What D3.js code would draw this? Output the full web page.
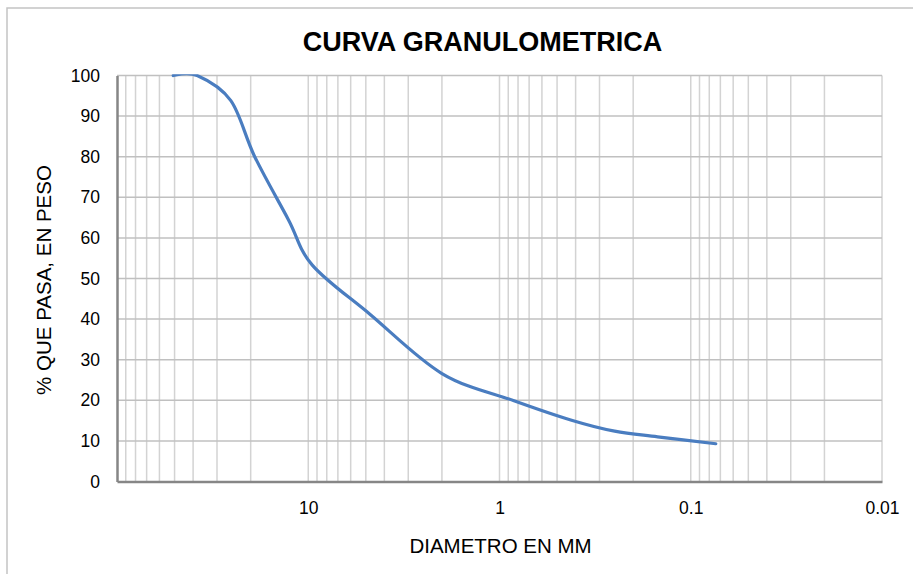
<!DOCTYPE html>
<html>
<head>
<meta charset="utf-8">
<script src="https://cdn.jsdelivr.net/npm/d3@7"></script>
<style>
  body { margin: 0; background: #fff; }
  text { font-family: "Liberation Sans", Arial, sans-serif; fill: #000; }
</style>
</head>
<body>
<svg id="viz" width="913" height="574"></svg>
<script>
// sieve openings (mm) and % passing
var diameters = [50.8, 38.1, 25.4, 19.05, 12.7, 9.525, 4.76, 2.0, 0.84, 0.42, 0.25, 0.149, 0.074];
var passing = [100, 100, 93.8, 80, 64.5, 53.3, 41.2, 26.6, 19.9, 15.1, 12.4, 11.0, 9.3];
var xTickValues = [10, 1, 0.1, 0.01];
var yTickValues = [0, 10, 20, 30, 40, 50, 60, 70, 80, 90, 100];

var svg = d3.select("#viz");

// plot area edges (don't use "top", it's window.top)
var plotLeft = 117, plotRight = 882, plotTop = 75.5, plotBottom = 481.5;

var xScale = d3.scaleLog()
            .domain([100, 0.01])
            .range([plotLeft, plotRight]);

var yScale = d3.scaleLinear()
            .domain([0, 100])
            .range([plotBottom, plotTop]);

// chart border
svg.append("rect")
    .attr("x", 7).attr("y", 8)
    .attr("width", 930).attr("height", 600)
    .attr("fill", "none")
    .attr("stroke", "#c4c4c4")
    .attr("stroke-width", 1.5);

// line is clipped to the plot area, like excel does
svg.append("clipPath").attr("id", "plotClip")
    .append("rect")
    .attr("x", plotLeft).attr("y", plotTop - 1.3)
    .attr("width", plotRight - plotLeft).attr("height", plotBottom - plotTop + 1.3);

// vertical grid: every 1..9 x decade
var vLines = [];
[100, 10, 1, 0.1].forEach(function(dec) {
    for (var k = 1; k <= 9; k++) vLines.push(dec / 10 * k);
});
svg.append("g").selectAll("line")
    .data(vLines.filter(d => d < 100))
    .enter()
    .append("line")
    .attr("x1", d => xScale(d)).attr("x2", d => xScale(d))
    .attr("y1", plotTop).attr("y2", plotBottom)
    .attr("stroke", "#d3d3d3")
    .attr("stroke-width", 1.5);

// horizontal grid
svg.append("g").selectAll("line")
    .data(yTickValues.filter(d => d > 0))
    .enter()
    .append("line")
    .attr("x1", plotLeft).attr("x2", plotRight)
    .attr("y1", d => yScale(d)).attr("y2", d => yScale(d))
    .attr("stroke", "#c0c0c0")
    .attr("stroke-width", 1.5);

// axes
var xAxis = svg.append("g")
    .attr("transform", "translate(0," + plotBottom + ")")
    .call(d3.axisBottom(xScale).tickValues(xTickValues).tickSize(0).tickPadding(20)
        .tickFormat(d => String(d)));
xAxis.select(".domain").attr("stroke", "#868686").attr("stroke-width", 2.5);
xAxis.selectAll("text").style("font-size", "17.5px").attr("fill", "#1a1a1a");

var yAxis = svg.append("g")
    .attr("transform", "translate(" + plotLeft + ",0)")
    .call(d3.axisLeft(yScale).tickValues(yTickValues).tickSize(0).tickPadding(17));
yAxis.select(".domain").attr("stroke", "#868686").attr("stroke-width", 2.5);
yAxis.selectAll("text").style("font-size", "17.5px").attr("fill", "#1a1a1a");

// smoothed curve
var line = d3.line()
    .x((d, i) => xScale(diameters[i]))
    .y(d => yScale(d))
    .curve(d3.curveCardinal.tension(0));

svg.append("path")
    .datum(passing)
    .attr("d", line)
    .attr("clip-path", "url(#plotClip)")
    .attr("fill", "none")
    .attr("stroke", "#4a7dc0")
    .attr("stroke-width", 3.2)
    .attr("stroke-linecap", "round");

// titles
svg.append("text")
    .attr("x", 482.5).attr("y", 51)
    .attr("text-anchor", "middle")
    .style("font-size", "27px")
    .style("font-weight", "bold")
    .text("CURVA GRANULOMETRICA");

svg.append("text")
    .attr("x", 500.5).attr("y", 553)
    .attr("text-anchor", "middle")
    .style("font-size", "20.5px")
    .text("DIAMETRO EN MM");

svg.append("text")
    .attr("transform", "translate(51,280) rotate(-90)")
    .attr("text-anchor", "middle")
    .style("font-size", "20.5px")
    .text("% QUE PASA, EN PESO");
</script>
</body>
</html>
